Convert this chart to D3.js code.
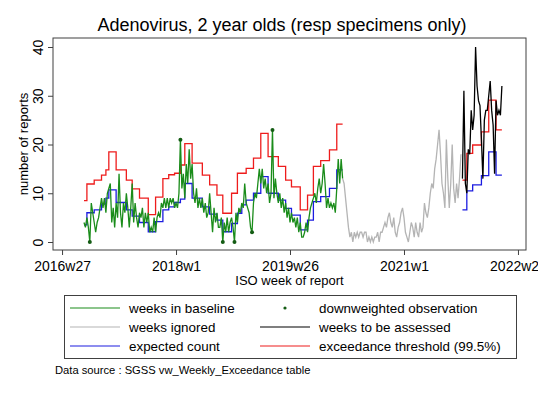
<!DOCTYPE html>
<html>
<head>
<meta charset="utf-8">
<script src="https://cdn.jsdelivr.net/npm/d3@7"></script>
<style>
  body { margin: 0; background: #fff; }
  text { font-family: "Liberation Sans", Arial, sans-serif; fill: #000; }
</style>
</head>
<body>
<div id="chart"></div>
<script>
// week index 0 = 2016w27, one value per week
let baselineStart = 15;
let baselineCounts = [
  4, 3, 5, 3, 0, 8, 6, 4, 2, 4, 5, 7,
  9, 7, 9, 6, 10, 11, 12, 4, 7, 3, 8, 5,
  14, 6, 3, 8, 6, 10, 7, 3, 7, 12, 4, 8,
  5, 3, 6, 5, 7, 3, 6, 4, 6, 2, 3, 2,
  5, 2, 5, 6, 5, 8, 7, 9, 7, 9, 7, 9,
  8, 9, 7, 8, 7, 10, 21, 11, 14, 9, 16, 12,
  19, 13, 16, 10, 8, 11, 7, 9, 7, 9, 6, 8,
  5, 6, 10, 6, 2, 7, 4, 6, 3, 3, 5, 0,
  4, 2, 5, 2, 4, 5, 3, 0, 6, 4, 7, 6,
  8, 7, 12, 8, 7, 6, 3, 2, 8, 10, 9, 12,
  15, 12, 15, 11, 13, 10, 12, 8, 10, 23, 9, 13,
  10, 8, 10, 7, 9, 6, 8, 5, 7, 4, 6, 4,
  5, 3, 5, 2, 4, 1, 1, 2, 4, 2, 5, 7,
  8, 9, 10, 8, 11, 13, 10, 12, 16, 12, 7, 9,
  7, 8, 7, 8, 6, 11, 17, 12, 17, 13
];
let downweightedWeeks = [19, 81, 110, 118, 130, 144];

let ignoredStart = 192;
let ignoredCounts = [
  13, 12, 9, 6, 3, 1, 2, 0, 2, 1, 2, 1,
  2, 2, 1, 2, 2, 0, 1, 0, 1, 0, 1, 1,
  2, 0, 2, 2, 3, 4, 3, 5, 6, 4, 3, 5,
  2, 1, 3, 4, 6, 7, 5, 2, 1, 0, 2, 4,
  3, 1, 4, 2, 1, 4, 2, 3, 8, 6, 5, 7,
  10, 12, 11, 15, 17, 20, 23, 18, 12, 10, 7, 21,
  13, 7, 12, 20, 11, 8, 12, 9, 13, 18
];

let assessedStart = 274;
let assessedCounts = [
  13, 31, 12, 10, 19, 18, 27, 23, 26, 40, 32, 29, 28, 21,
  13, 25, 27, 27, 30, 33, 27, 24, 14, 29, 26, 27, 26, 32
];

// stepped expected count and threshold
let baseStepWeeks = [15, 17, 22, 27, 30, 32, 37, 44, 48, 53, 59, 64, 69, 73, 77, 81, 84, 89, 96, 101,
  106, 110, 116, 120, 123, 126, 131, 136, 141, 148, 153, 157, 163, 168, 172, 177, 183, 188];
let baseExpected = [3.5, 6.0, 6.6, 7.8, 9.0, 10.7, 8.1, 6.6, 5.3, 4.0, 2.1, 4.2, 6.6, 7.2, 8.1, 8.8, 12.0, 9.0, 7.2, 5.7,
  4.5, 2.1, 3.8, 5.9, 7.6, 8.6, 10.0, 13.4, 10.0, 8.6, 6.9, 5.5, 2.5, 4.5, 8.3, 9.3, 11.0, 14.8];
let baseThreshold = [8.5, 11.9, 12.7, 13.7, 14.8, 18.5, 14.8, 12.7, 10.9, 9.0, 5.6, 9.2, 13.0, 13.8, 14.1, 15.8, 20.2, 16.2, 13.7, 11.7,
  9.6, 5.9, 10.0, 14.1, 14.1, 15.1, 17.2, 22.3, 17.5, 15.5, 12.7, 11.3, 6.6, 9.6, 15.5, 16.7, 18.9, 24.2];
let baseStepEnd = 192;

let assessStepWeeks = [274, 277, 281, 287, 292, 297];
let assessExpected = [6.6, 10.5, 11.7, 13.6, 18.5, 13.7];
let assessThreshold = [12.7, 18.2, 19.9, 22.6, 29.1, 23.0];
let assessStepEnd = 301;

let xTickWeeks = [0, 78, 156, 234, 312];
let xTickLabels = ['2016w27', '2018w1', '2019w26', '2021w1', '2022w26'];
let yTicks = [0, 10, 20, 30, 40];

let legendLabels = ['weeks in baseline', 'downweighted observation', 'weeks ignored',
  'weeks to be assessed', 'expected count', 'exceedance threshold (99.5%)'];

let colors = {
  baseline: '#1a8c1a',
  ignored: '#b4b4b4',
  assessed: '#000000',
  expected: '#1c1ce0',
  threshold: '#ee1c1c',
  dot: '#145c14',
  frame: '#404040'
};

let margin = {top: 38, right: 12, bottom: 143, left: 53};
let width = 538 - margin.left - margin.right;
let height = 393 - margin.top - margin.bottom;

let svg = d3.select('#chart')
  .append('svg')
  .attr('width', 538)
  .attr('height', 393);

let g = svg.append('g')
  .attr('transform', 'translate(' + margin.left + ',' + margin.top + ')');

let xScale = d3.scaleLinear()
  .domain([-6.2, 317.5])
  .range([0, width]);
let yScale = d3.scaleLinear()
  .domain([0, 40])
  .range([204, 9]);

let weekly = (start, counts) => counts.map((v, i) => [start + i, v]);
let steps = (weeks, values, end) => weeks.map((w, i) => [w, values[i]])
  .concat([[end, values[values.length - 1]]]);

let line = d3.line()
  .x(d => xScale(d[0]))
  .y(d => yScale(d[1]));
let stair = d3.line()
  .x(d => xScale(d[0]))
  .y(d => yScale(d[1]))
  .curve(d3.curveStepAfter);

// axes
let yAxis = d3.axisLeft(yScale).tickValues(yTicks).tickSizeOuter(0).tickSize(5);
let yG = g.append('g').call(yAxis);
yG.select('.domain').remove();
yG.selectAll('line').attr('stroke', colors.frame);
yG.selectAll('text')
  .attr('x', 0)
  .attr('dy', null)
  .attr('text-anchor', 'middle')
  .attr('transform', 'translate(-10,0) rotate(-90)')
  .style('font-size', '14px')
  .style('font-family', '"Liberation Sans", Arial, sans-serif');

let xAxis = d3.axisBottom(xScale).tickValues(xTickWeeks)
  .tickFormat((d, i) => xTickLabels[i]).tickSizeOuter(0).tickSize(5);
let xG = g.append('g')
  .attr('transform', 'translate(0,' + height + ')')
  .call(xAxis);
xG.select('.domain').remove();
xG.selectAll('line').attr('stroke', colors.frame);
xG.selectAll('text')
  .attr('y', 21)
  .attr('dy', null)
  .style('font-size', '14px')
  .style('font-family', '"Liberation Sans", Arial, sans-serif');

// series
g.append('path')
  .attr('d', stair(steps(baseStepWeeks, baseExpected, baseStepEnd)))
  .attr('fill', 'none').attr('stroke', colors.expected).attr('stroke-width', 1.3);
g.append('path')
  .attr('d', stair(steps(baseStepWeeks, baseThreshold, baseStepEnd)))
  .attr('fill', 'none').attr('stroke', colors.threshold).attr('stroke-width', 1.3);
g.append('path')
  .attr('d', stair(steps(assessStepWeeks, assessExpected, assessStepEnd)))
  .attr('fill', 'none').attr('stroke', colors.expected).attr('stroke-width', 1.3);
g.append('path')
  .attr('d', stair(steps(assessStepWeeks, assessThreshold, assessStepEnd)))
  .attr('fill', 'none').attr('stroke', colors.threshold).attr('stroke-width', 1.3);

let baseline = weekly(baselineStart, baselineCounts);
g.append('path')
  .attr('d', line(baseline))
  .attr('fill', 'none').attr('stroke', colors.baseline).attr('stroke-width', 1.3);
g.append('path')
  .attr('d', line(weekly(ignoredStart, ignoredCounts)))
  .attr('fill', 'none').attr('stroke', colors.ignored).attr('stroke-width', 1.3);
g.append('path')
  .attr('d', line(weekly(assessedStart, assessedCounts)))
  .attr('fill', 'none').attr('stroke', colors.assessed).attr('stroke-width', 1.3);

g.selectAll('.dw')
  .data(baseline.filter(d => downweightedWeeks.includes(d[0])))
  .enter()
  .append('circle')
  .attr('class', 'dw')
  .attr('cx', d => xScale(d[0]))
  .attr('cy', d => yScale(d[1]))
  .attr('r', 2)
  .attr('fill', colors.dot);

// plot frame
g.append('rect')
  .attr('width', width)
  .attr('height', height)
  .attr('fill', 'none')
  .attr('stroke', colors.frame)
  .attr('stroke-width', 1);

// titles
svg.append('text')
  .attr('x', 282)
  .attr('y', 31)
  .attr('text-anchor', 'middle')
  .style('font-size', '18px')
  .text('Adenovirus, 2 year olds (resp specimens only)');

svg.append('text')
  .attr('text-anchor', 'middle')
  .attr('transform', 'translate(28,' + (margin.top + height / 2) + ') rotate(-90)')
  .style('font-size', '13px')
  .text('number of reports');

svg.append('text')
  .attr('x', margin.left + width / 2)
  .attr('y', 285)
  .attr('text-anchor', 'middle')
  .style('font-size', '13px')
  .text('ISO week of report');

// legend
let legend = svg.append('g');
legend.append('rect')
  .attr('x', 64.5).attr('y', 295.5)
  .attr('width', 452).attr('height', 63)
  .attr('fill', 'none')
  .attr('stroke', colors.frame);

let legendKinds = ['baseline', 'dot', 'ignored', 'assessed', 'expected', 'threshold'];
legendLabels.forEach((label, i) => {
  let col = i % 2;
  let row = Math.floor(i / 2);
  let cy = 308 + row * 19;
  let x0 = col === 0 ? 70 : 260;
  let kind = legendKinds[i];
  if (kind === 'dot') {
    legend.append('circle')
      .attr('cx', x0 + 25).attr('cy', cy).attr('r', 1.6)
      .attr('fill', colors.dot);
  } else {
    legend.append('line')
      .attr('x1', x0).attr('x2', x0 + 50)
      .attr('y1', cy).attr('y2', cy)
      .attr('stroke', colors[kind]).attr('stroke-width', 1.2);
  }
  legend.append('text')
    .attr('x', x0 + 59)
    .attr('y', cy)
    .attr('dy', '0.35em')
    .style('font-size', '13.4px')
    .text(label);
});

svg.append('text')
  .attr('x', 55)
  .attr('y', 374)
  .style('font-size', '11.2px')
  .text('Data source : SGSS vw_Weekly_Exceedance table');
</script>
</body>
</html>
